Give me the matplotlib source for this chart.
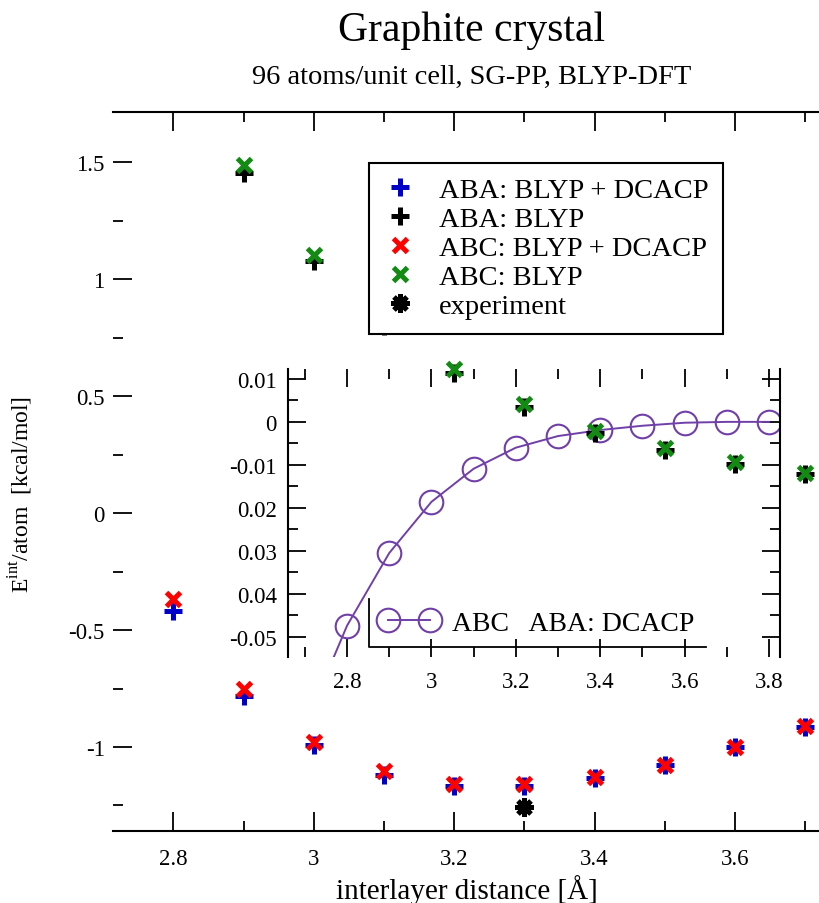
import matplotlib
matplotlib.use("Agg")
import matplotlib.pyplot as plt
from matplotlib.ticker import MultipleLocator, FixedLocator, FixedFormatter
from matplotlib.lines import Line2D

plt.rcParams['font.family'] = ['Liberation Serif', 'DejaVu Serif']
plt.rcParams['mathtext.fontset'] = 'custom'
plt.rcParams['mathtext.rm'] = 'Liberation Serif'
plt.rcParams['axes.unicode_minus'] = False

# main panel: interlayer energy per atom [kcal/mol]
distance = [2.8, 2.9, 3.0, 3.1, 3.2, 3.3, 3.4, 3.5, 3.6, 3.7]
aba_dcacp = [-0.419, -0.782, -0.990, -1.118, -1.167, -1.167, -1.132, -1.077, -1.000, -0.915]
abc_dcacp = [-0.368, -0.752, -0.979, -1.103, -1.158, -1.158, -1.128, -1.077, -1.000, -0.910]
blyp_distance = [2.9, 3.0, 3.1, 3.2, 3.3, 3.4, 3.5, 3.6, 3.7]
aba_blyp = [1.453, 1.077, 0.800, 0.600, 0.455, 0.340, 0.270, 0.210, 0.165]
abc_blyp = [1.487, 1.103, 0.830, 0.615, 0.466, 0.350, 0.278, 0.218, 0.171]
exp_distance = [3.3]
exp_energy = [-1.256]

# inset: ABC - ABA difference with DCACP (first value only continues the line)
inset_distance = [2.7, 2.8, 2.9, 3.0, 3.1, 3.2, 3.3, 3.4, 3.5, 3.6, 3.7, 3.8]
abc_aba_diff = [-0.0706, -0.0474, -0.0305, -0.0186, -0.0109, -0.0060, -0.0033,
                -0.0019, -0.0009, -0.0002, 0.0, 0.0]

main_xticks = [2.8, 3.0, 3.2, 3.4, 3.6]
main_xticklabels = ['2.8', '3', '3.2', '3.4', '3.6']
main_yticks = [1.5, 1.0, 0.5, 0.0, -0.5, -1.0]
main_yticklabels = ['1.5', '1', '0.5', '0', '-0.5', '-1']
inset_xticks = [2.8, 3.0, 3.2, 3.4, 3.6, 3.8]
inset_xticklabels = ['2.8', '3', '3.2', '3.4', '3.6', '3.8']
inset_yticks = [0.01, 0.0, -0.01, -0.02, -0.03, -0.04, -0.05]
inset_yticklabels = ['0.01', '0', '-0.01', '0.02', '0.03', '0.04', '-0.05']

W, H = 820, 904
purple = '#7040a8'
fig = plt.figure(figsize=(8.2, 9.04), dpi=100)

ax = fig.add_axes([113 / W, 1 - 832 / H, 707 / W, 719 / H], zorder=2)
ax.patch.set_visible(False)
ax_in = fig.add_axes([288 / W, 1 - 658 / H, 492 / W, 288 / H], zorder=1)
ax_in.patch.set_visible(False)

ms_plus = dict(linestyle='none', markersize=13, markeredgewidth=3.6)
ms_cross = dict(linestyle='none', markersize=10, markeredgewidth=3.6)
ax.plot(distance, aba_dcacp, marker='+', color='#0000c8', label='ABA: BLYP + DCACP', **ms_plus)
ax.plot(blyp_distance, aba_blyp, marker='+', color='black', label='ABA: BLYP', **ms_plus)
ax.plot(distance, abc_dcacp, marker='x', color='#ff0000', label='ABC: BLYP + DCACP', **ms_cross)
ax.plot(blyp_distance, abc_blyp, marker='x', color='#138a13', label='ABC: BLYP', **ms_cross)
ax.plot(exp_distance, exp_energy, marker=(8, 2, 0), color='black', label='experiment',
        linestyle='none', markersize=13, markeredgewidth=3.5)

ax.set_xlim(2.714, 3.721)
ax.set_ylim(-1.359, 1.714)
ax.xaxis.set_major_locator(FixedLocator(main_xticks))
ax.xaxis.set_major_formatter(FixedFormatter(main_xticklabels))
ax.xaxis.set_minor_locator(MultipleLocator(0.1))
ax.yaxis.set_major_locator(FixedLocator(main_yticks))
ax.yaxis.set_major_formatter(FixedFormatter(main_yticklabels))
ax.yaxis.set_minor_locator(MultipleLocator(0.25))
for side in ['left', 'right']:
    ax.spines[side].set_visible(False)
for side in ['top', 'bottom']:
    ax.spines[side].set_linewidth(1.5)
ax.tick_params(which='both', direction='in', top=True, bottom=True, left=True, right=False, width=1.3)
ax.tick_params(which='major', length=14, labelsize=16.5)
ax.tick_params(axis='x', which='major', pad=12)
ax.tick_params(axis='y', which='major', pad=6)
ax.tick_params(which='minor', length=7.5)

ax.set_xlabel('interlayer distance [Å]', fontsize=21, labelpad=4)
ax.set_ylabel(r'E$^{\mathrm{int}}$/atom  [kcal/mol]', fontsize=17)
ax.yaxis.set_label_coords(-0.11, 0.47)

leg = ax.legend(loc='upper left', bbox_to_anchor=(369 / W, 1 - 164 / H), bbox_transform=fig.transFigure,
                fontsize=20.5, fancybox=False, framealpha=1, edgecolor='black', borderaxespad=0,
                handlelength=1.2, handletextpad=0.75, labelspacing=0.11, borderpad=0.5)
leg.get_frame().set_linewidth(1.5)

# inset
ax_in.plot(inset_distance, abc_aba_diff, color=purple, linewidth=1.4, marker='o',
           markersize=17, fillstyle='none', markeredgewidth=1.5, markevery=range(1, len(inset_distance)))
ax_in.set_xlim(2.660, 3.826)
ax_in.set_ylim(-0.0547, 0.0123)
ax_in.xaxis.set_major_locator(FixedLocator(inset_xticks))
ax_in.xaxis.set_major_formatter(FixedFormatter(inset_xticklabels))
ax_in.xaxis.set_minor_locator(MultipleLocator(0.1))
ax_in.yaxis.set_major_locator(FixedLocator(inset_yticks))
ax_in.yaxis.set_major_formatter(FixedFormatter(inset_yticklabels))
ax_in.yaxis.set_minor_locator(MultipleLocator(0.005))
ax_in.spines['top'].set_visible(False)
ax_in.spines['bottom'].set_visible(False)
for side in ['left', 'right']:
    ax_in.spines[side].set_linewidth(1.5)
ax_in.tick_params(which='both', direction='in', top=True, bottom=True, left=True, right=True, width=1.3)
ax_in.tick_params(which='major', length=13, labelsize=16.5)
ax_in.tick_params(axis='x', which='major', pad=10)
ax_in.tick_params(axis='y', which='major', pad=8)
ax_in.tick_params(which='minor', length=7)

handle_in = Line2D([], [], color=purple, linewidth=1.4, marker='o', markersize=17,
                   fillstyle='none', markeredgewidth=1.5)
leg_in = ax_in.legend([handle_in], ['ABC   ABA: DCACP'], loc='lower left',
                      bbox_to_anchor=(369 / W, 1 - 648 / H), bbox_transform=fig.transFigure,
                      fontsize=20, frameon=False, numpoints=2, handlelength=2.1, handletextpad=0.5,
                      borderaxespad=0, borderpad=0.4)

# the inset legend box only shows its left and bottom edges
fig.canvas.draw()
bb = leg_in.get_window_extent().transformed(fig.transFigure.inverted())
fig.add_artist(Line2D([bb.x0, bb.x0, bb.x1], [bb.y1, bb.y0, bb.y0], transform=fig.transFigure,
                      color='black', linewidth=1.3))

fig.text(472 / W, 1 - 31 / H, 'Graphite crystal', ha='center', va='center', fontsize=30)
fig.text(472 / W, 1 - 77 / H, '96 atoms/unit cell, SG-PP, BLYP-DFT', ha='center', va='center', fontsize=20.5)

fig.savefig('out.png', dpi=100)
